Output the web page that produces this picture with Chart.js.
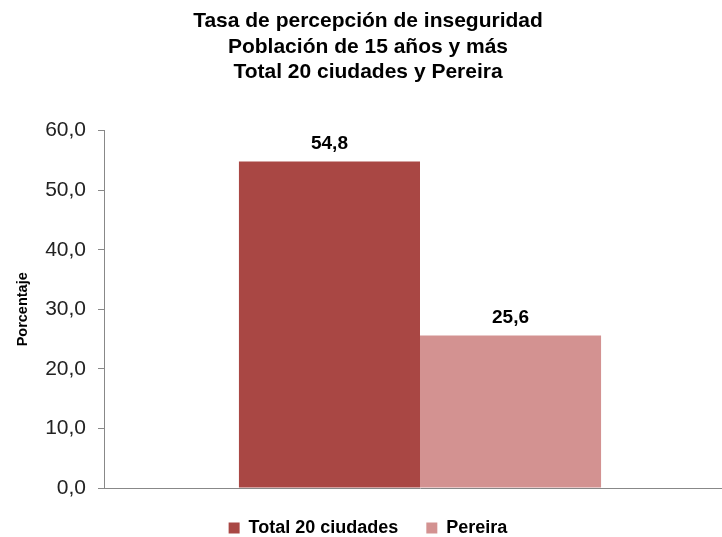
<!DOCTYPE html>
<html>
<head>
<meta charset="utf-8">
<script src="https://cdn.jsdelivr.net/npm/chart.js@4"></script>
<style>
  html, body { margin: 0; padding: 0; background: #fff; }
  #wrap { width: 722px; height: 537px; position: relative; overflow: hidden; }
</style>
</head>
<body>
<div id="wrap"><canvas id="chart" width="736" height="537"></canvas></div>
<script>
  const categories = [""];
  const seriesNames = ["Total 20 ciudades", "Pereira"];
  const totalValues = [54.8];
  const pereiraValues = [25.6];
  const yTicks = [0, 10, 20, 30, 40, 50, 60];
  const titleLines = ["Tasa de percepción de inseguridad", "Población de 15 años y más", "Total 20 ciudades y Pereira"];

  const FONT = "'Liberation Sans', Arial, sans-serif";
  const fmt = (v) => v.toFixed(1).replace(".", ",");

  // labels above bars
  const valueLabels = {
    id: "valueLabels",
    afterDatasetsDraw(chart) {
      const ctx = chart.ctx;
      ctx.save();
      ctx.font = "bold 19px " + FONT;
      ctx.fillStyle = "#000";
      ctx.textAlign = "center";
      ctx.textBaseline = "bottom";
      chart.data.datasets.forEach((ds, i) => {
        chart.getDatasetMeta(i).data.forEach((bar, j) => {
          ctx.fillText(fmt(ds.data[j]), bar.x, bar.y - 8);
        });
      });
      ctx.restore();
    },
  };

  new Chart(document.getElementById("chart"), {
    type: "bar",
    data: {
      labels: categories,
      datasets: [
        { label: seriesNames[0], data: totalValues, backgroundColor: "#A94744" },
        { label: seriesNames[1], data: pereiraValues, backgroundColor: "#D39291" },
      ],
    },
    options: {
      responsive: false,
      animation: false,
      layout: { padding: { left: 0, right: 0, top: 0, bottom: -10 } },
      datasets: { bar: { categoryPercentage: 0.573, barPercentage: 1.0 } },
      plugins: {
        title: {
          display: true,
          text: titleLines,
          color: "#000",
          font: { family: FONT, size: 21, weight: "bold", lineHeight: 1.2 },
          padding: { top: 9, bottom: 46 },
        },
        legend: {
          position: "bottom",
          labels: {
            color: "#000",
            font: { family: FONT, size: 18, weight: "bold" },
            usePointStyle: true,
            pointStyle: "rect",
            boxWidth: 11,
            boxHeight: 11,
            padding: 28,
          },
        },
        tooltip: { enabled: false },
      },
      scales: {
        x: {
          grid: { display: false, drawTicks: false },
          border: { color: "#888", width: 1 },
          ticks: { display: false },
          afterFit: (s) => { s.height = 3; },
        },
        y: {
          min: 0,
          max: 60,
          afterBuildTicks: (s) => { s.ticks = yTicks.map((v) => ({ value: v })); },
          grid: { display: true, drawOnChartArea: false, drawTicks: true, tickLength: 6, color: "#888" },
          border: { color: "#888", width: 1 },
          ticks: {
            color: "#222",
            font: { family: FONT, size: 21 },
            padding: 12,
            callback: (v) => fmt(v),
          },
          title: {
            display: true,
            text: "Porcentaje",
            color: "#000",
            font: { family: FONT, size: 14.5, weight: "bold" },
            padding: { top: 14, bottom: 0 },
          },
          afterFit: (s) => { s.width = 104; },
        },
      },
    },
    plugins: [valueLabels],
  });
</script>
</body>
</html>
